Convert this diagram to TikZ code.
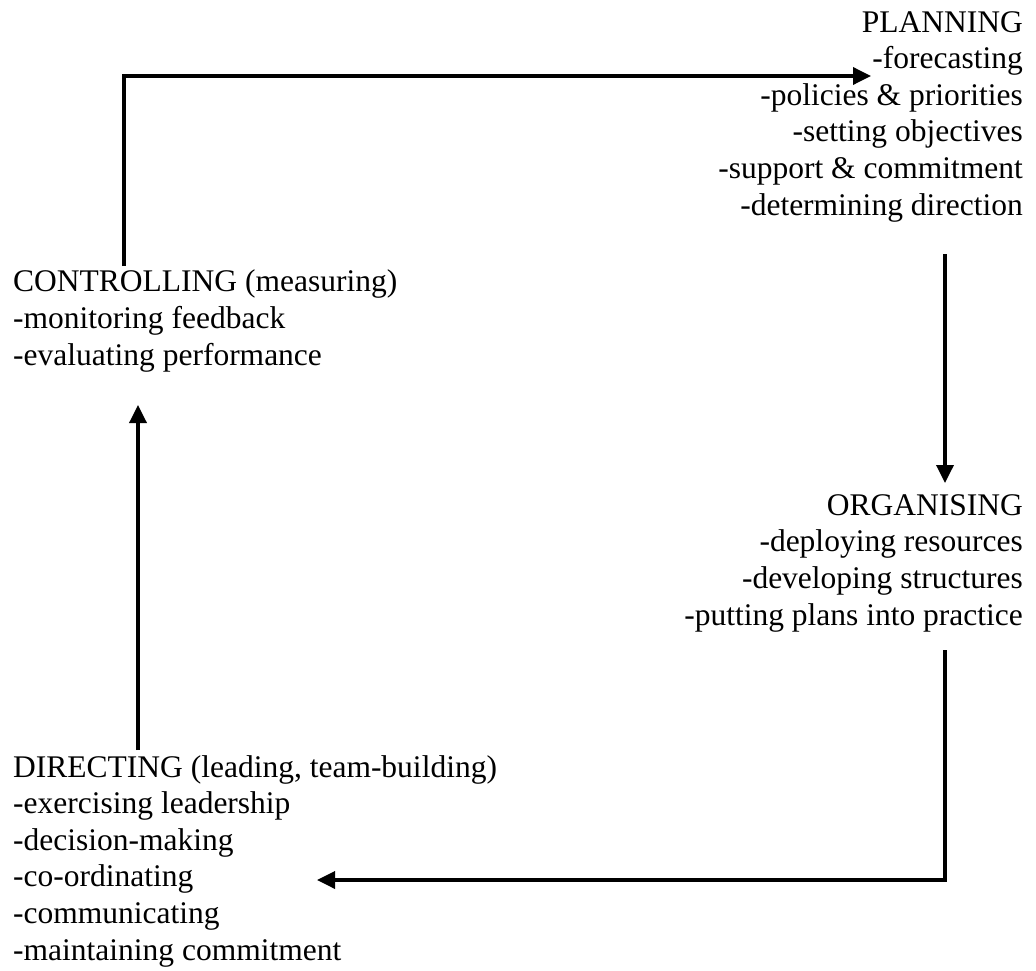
\documentclass[tikz,border=0pt]{standalone}
\usepackage{fontspec}
\setmainfont{Liberation Serif}
\usetikzlibrary{arrows.meta}
\begin{document}
\begin{tikzpicture}[x=1pt,y=-1pt,
  stage/.style={font=\fontsize{31.5}{36.6}\selectfont, inner sep=0pt},
  flow/.style={line width=3.5pt, -{Triangle[length=18pt,width=17pt]}}]
\useasboundingbox (0,0) rectangle (1036,971);

% the four stages of the management cycle (anchored on the last line's baseline)
\node[stage, align=right, anchor=base east] (plan) at (1023,215)
  {PLANNING\\-forecasting\\-policies \& priorities\\-setting objectives\\-support \& commitment\\-determining direction};
\node[stage, align=right, anchor=base east] (org) at (1023,625)
  {ORGANISING\\-deploying resources\\-developing structures\\-putting plans into practice};
\node[stage, align=left, anchor=base west] (dir) at (13,960)
  {DIRECTING (leading, team-building)\\-exercising leadership\\-decision-making\\-co-ordinating\\-communicating\\-maintaining commitment};
\node[stage, align=left, anchor=base west] (ctrl) at (13,365)
  {CONTROLLING (measuring)\\-monitoring feedback\\-evaluating performance};

% connector end points
\coordinate (ctrlOut) at (124,266);
\coordinate (planIn) at (871,76);
\coordinate (planOut) at (945,254);
\coordinate (orgIn) at (945,483);
\coordinate (orgOut) at (945,650);
\coordinate (dirIn) at (317,880);
\coordinate (dirOut) at (138,750);
\coordinate (ctrlIn) at (138,405);

% the cycle
\draw[flow] (ctrlOut) |- (planIn);
\draw[flow] (planOut) -- (orgIn);
\draw[flow] (orgOut) |- (dirIn);
\draw[flow] (dirOut) -- (ctrlIn);
\end{tikzpicture}
\end{document}
